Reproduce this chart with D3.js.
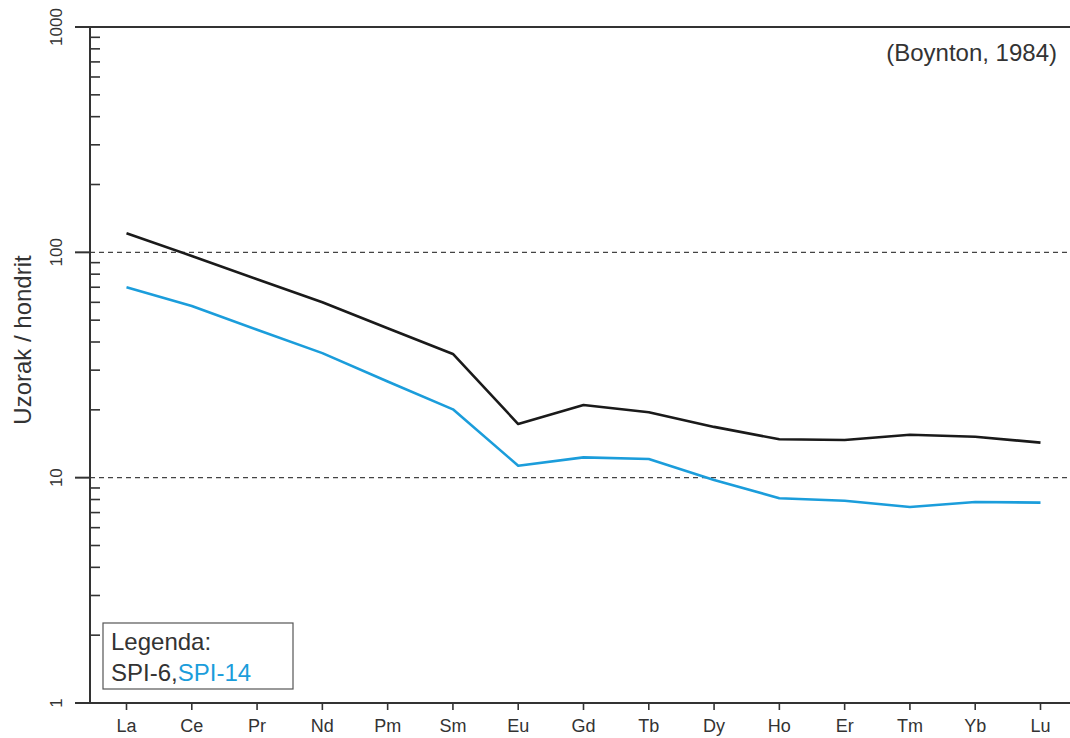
<!DOCTYPE html>
<html>
<head>
<meta charset="utf-8">
<script src="https://cdn.jsdelivr.net/npm/d3@7"></script>
<style>
  html, body { margin: 0; padding: 0; background: #fff; }
  svg { display: block; font-family: "Liberation Sans", Arial, sans-serif; }
</style>
</head>
<body>
<svg id="chart" width="1070" height="738"></svg>
<script>
// REE elements (chondrite-normalised, Boynton 1984)
const elements = ["La","Ce","Pr","Nd","Pm","Sm","Eu","Gd","Tb","Dy","Ho","Er","Tm","Yb","Lu"];
const spi6  = [121.6, 96.4, 76, 60, 46, 35.4, 17.3, 21.0, 19.5, 16.8, 14.8, 14.7, 15.5, 15.2, 14.3];
const spi14 = [70, 57.8, 45.3, 35.7, 26.7, 20.1, 11.3, 12.3, 12.1, 9.77, 8.1, 7.9, 7.41, 7.8, 7.75];
const majorTicks = [1, 10, 100, 1000];
const refLines = [10, 100];

const svg = d3.select("#chart");
const plotLeft = 90, plotRight = 1070, plotTop = 27, plotBottom = 703;
const axisColor = "#333";

const x = d3.scalePoint().domain(elements).range([126.5, 1040.5]);
const y = d3.scaleLog().domain([1, 1000]).range([plotBottom, plotTop]);

// dashed reference lines
svg.selectAll("line.ref").data(refLines).join("line")
  .attr("class", "ref")
  .attr("x1", plotLeft).attr("x2", plotRight)
  .attr("y1", d => y(d)).attr("y2", d => y(d))
  .attr("stroke", "#444").attr("stroke-width", 1.4)
  .attr("stroke-dasharray", "5,4");

// top and bottom frame lines
[1000, 1].forEach(v => {
  svg.append("line")
    .attr("x1", 75).attr("x2", plotRight)
    .attr("y1", y(v)).attr("y2", y(v))
    .attr("stroke", axisColor).attr("stroke-width", 2);
});

// left axis line
svg.append("line")
  .attr("x1", plotLeft).attr("x2", plotLeft).attr("y1", plotTop).attr("y2", plotBottom)
  .attr("stroke", axisColor).attr("stroke-width", 2);

// major ticks (outward)
svg.selectAll("line.major").data(majorTicks).join("line")
  .attr("class", "major")
  .attr("x1", 75).attr("x2", plotLeft)
  .attr("y1", d => y(d)).attr("y2", d => y(d))
  .attr("stroke", axisColor).attr("stroke-width", 2);

// minor ticks (inward)
const minor = [];
[1, 10, 100].forEach(b => { for (let k = 2; k <= 9; k++) minor.push(b * k); });
svg.selectAll("line.minor").data(minor).join("line")
  .attr("class", "minor")
  .attr("x1", plotLeft).attr("x2", plotLeft + 10)
  .attr("y1", d => y(d)).attr("y2", d => y(d))
  .attr("stroke", axisColor).attr("stroke-width", 1.6);

// major tick labels, rotated
svg.selectAll("text.ylab").data(majorTicks).join("text")
  .attr("class", "ylab")
  .attr("transform", d => `translate(62,${y(d)}) rotate(-90)`)
  .attr("text-anchor", "middle")
  .attr("font-size", 17).attr("fill", "#333")
  .text(d => d);

// x axis ticks and labels
svg.selectAll("line.xt").data(elements).join("line")
  .attr("class", "xt")
  .attr("x1", d => x(d)).attr("x2", d => x(d))
  .attr("y1", plotBottom).attr("y2", plotBottom + 7)
  .attr("stroke", axisColor).attr("stroke-width", 1.6);
svg.selectAll("text.xl").data(elements).join("text")
  .attr("class", "xl")
  .attr("x", d => x(d)).attr("y", 732)
  .attr("text-anchor", "middle")
  .attr("font-size", 18).attr("fill", "#333")
  .text(d => d);

// axis title
svg.append("text")
  .attr("transform", "translate(31,340) rotate(-90)")
  .attr("text-anchor", "middle")
  .attr("font-size", 24).attr("fill", "#333")
  .text("Uzorak / hondrit");

// reference annotation
svg.append("text")
  .attr("x", 1057).attr("y", 61)
  .attr("text-anchor", "end")
  .attr("font-size", 24).attr("fill", "#333")
  .text("(Boynton, 1984)");

// sample lines
const line = d3.line().x((d, i) => x(elements[i])).y(d => y(d));
svg.append("path").datum(spi6)
  .attr("d", line).attr("fill", "none")
  .attr("stroke", "#1a1a1a").attr("stroke-width", 2.6).attr("stroke-linejoin", "round");
svg.append("path").datum(spi14)
  .attr("d", line).attr("fill", "none")
  .attr("stroke", "#1b9ddb").attr("stroke-width", 2.6).attr("stroke-linejoin", "round");

// legend
svg.append("rect")
  .attr("x", 103).attr("y", 623).attr("width", 190).attr("height", 66)
  .attr("fill", "#fff").attr("stroke", "#555").attr("stroke-width", 1.2);
svg.append("text")
  .attr("x", 111).attr("y", 650)
  .attr("font-size", 24).attr("fill", "#333")
  .text("Legenda:");
const lt = svg.append("text")
  .attr("x", 111).attr("y", 681)
  .attr("font-size", 24);
lt.append("tspan").attr("fill", "#333").text("SPI-6,");
lt.append("tspan").attr("fill", "#1b9ddb").text("SPI-14");
</script>
</body>
</html>
